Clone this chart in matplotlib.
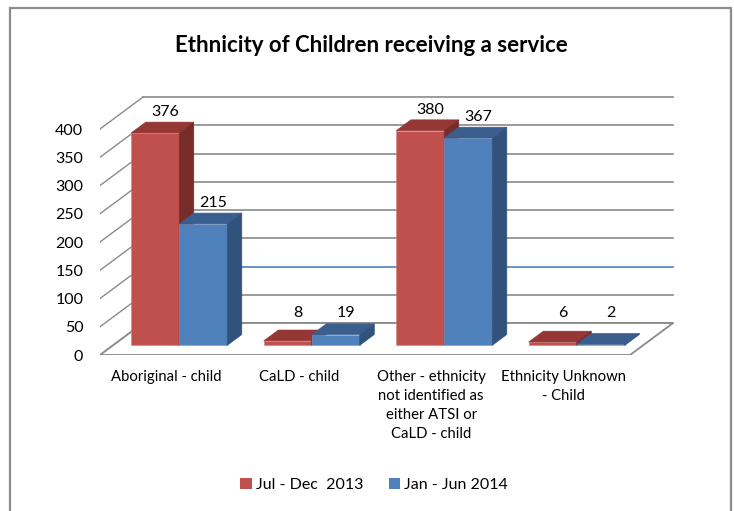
import numpy as np
import matplotlib.pyplot as plt
from matplotlib.patches import Polygon, Patch, Rectangle

plt.rcParams['font.family'] = ['Lato', 'DejaVu Sans']

categories = ['Aboriginal - child', 'CaLD - child',
              'Other - ethnicity\nnot identified as\neither ATSI or\nCaLD - child',
              'Ethnicity Unknown\n- Child']
series = ['Jul - Dec  2013', 'Jan - Jun 2014']
jul_dec_2013 = [376, 8, 380, 6]
jan_jun_2014 = [215, 19, 367, 2]
yticks = [0, 50, 100, 150, 200, 250, 300, 350, 400]

front = ['#C0504D', '#4F81BD']
top = ['#953735', '#3A5F8E']
side = ['#772C2A', '#30527B']
grid_c = '#8A8A8A'

W, H = 734, 511
ppx = 132.5     # pixels per category
ppy = 0.565     # pixels per unit
Dx, Dy = 0.325, 56.6   # depth of the walls (category units, value units)
f0, f1 = 0.30, 0.64    # depth of bar front / back
bw = 0.3625

fig = plt.figure(figsize=(W / 100, H / 100), dpi=100)
ax = fig.add_axes([100 / W, (H - 355) / H, 4.4 * ppx / W, 470 * ppy / H])
ax.set_xlim(0, 4.4)
ax.set_ylim(0, 470)
for s in ax.spines.values():
    s.set_visible(False)

n = len(categories)
# walls
for v in yticks:
    c = '#4F81BD' if v == 100 else grid_c
    ax.plot([Dx, n + Dx], [v + Dy, v + Dy], color=c, lw=1.2, zorder=1)
    ax.plot([0, Dx], [v, v + Dy], color=grid_c, lw=1.0, zorder=1)
# floor
ax.add_patch(Polygon([(0, 0), (n, 0), (n + Dx, Dy), (Dx, Dy)], closed=True,
                     facecolor='white', edgecolor=grid_c, lw=1.3, zorder=1.5))

data = [jul_dec_2013, jan_jun_2014]
x = np.arange(n) + 0.5
z = 2
for i in range(n):
    for k in range(2):
        v = data[k][i]
        x0 = x[i] - bw + k * bw + f0 * Dx
        y0 = f0 * Dy
        ddx = (f1 - f0) * Dx
        ddy = (f1 - f0) * Dy
        ax.bar(x0, v, width=bw, bottom=y0, align='edge', color=front[k],
               edgecolor='#d08080' if k == 0 else '#7fa0cc', lw=0.4, zorder=z)
        ax.add_patch(Polygon([(x0, y0 + v), (x0 + bw, y0 + v),
                              (x0 + bw + ddx, y0 + v + ddy), (x0 + ddx, y0 + v + ddy)],
                             closed=True, facecolor=top[k], edgecolor=top[k], lw=0.4, zorder=z))
        ax.add_patch(Polygon([(x0 + bw, y0), (x0 + bw + ddx, y0 + ddy),
                              (x0 + bw + ddx, y0 + v + ddy), (x0 + bw, y0 + v)],
                             closed=True, facecolor=side[k], edgecolor=side[k], lw=0.4, zorder=z))
        z += 1
        ax.annotate(str(v), (x0 + bw / 2 + 0.7 * ddx, max(v, 20) + y0 + ddy),
                    xytext=(0, 2), textcoords='offset points', ha='center', va='bottom',
                    fontsize=11.5, color='black', zorder=20)

ax.set_yticks(yticks)
ax.set_yticklabels([str(t) for t in yticks], fontsize=11.5)
ax.set_xticks(x)
ax.set_xticklabels(categories, fontsize=10.7, linespacing=1.45)
ax.tick_params(axis='y', length=0, pad=12)
ax.tick_params(axis='x', length=0, pad=11)

fig.text(371 / W, 1 - 45 / H, 'Ethnicity of Children receiving a service',
         ha='center', va='center', fontsize=16, fontweight='bold')

handles = [Patch(facecolor=front[0]), Patch(facecolor=front[1])]
fig.legend(handles, series, loc='center', bbox_to_anchor=(374 / W, 1 - 485 / H),
           ncol=2, frameon=False, fontsize=11.5, handlelength=0.7, handleheight=0.7,
           handletextpad=0.25, columnspacing=1.6)

fig.patches.append(Rectangle((10 / W, -0.1), 721 / W, 1.1 - 8 / H, transform=fig.transFigure,
                             fill=False, edgecolor='#8C8C8C', lw=1.6))

fig.savefig('out.png', dpi=100)
